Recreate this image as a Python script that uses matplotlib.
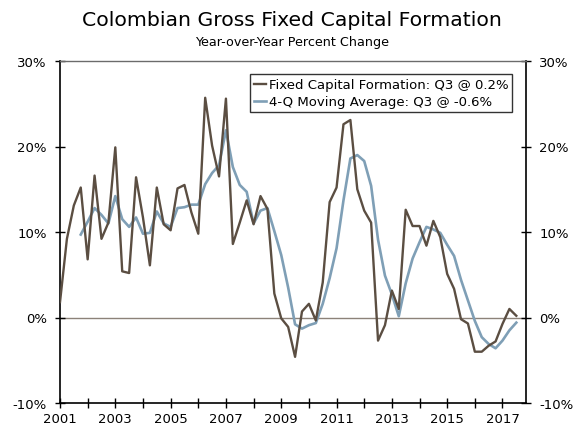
import matplotlib
matplotlib.use("Agg")
import matplotlib.pyplot as plt
from matplotlib.ticker import FixedLocator, MultipleLocator, FuncFormatter

# quarterly data, 2001 Q1 .. 2017 Q3
start_year = 2001
fixed_capital = [
    1.8, 9.2, 13.1, 15.2, 6.8, 16.6, 9.2, 11.1, 19.9, 5.4, 5.2, 16.4,
    11.7, 6.1, 15.2, 10.9, 10.2, 15.1, 15.5, 12.3, 9.8, 25.7, 20.1, 16.5,
    25.6, 8.6, 11.1, 13.7, 10.9, 14.2, 12.7, 2.8, -0.1, -1.1, -4.6, 0.7,
    1.6, -0.35, 4.1, 13.5, 15.2, 22.6, 23.1, 15.0, 12.5, 11.1, -2.7, -0.9,
    3.15, 1.0, 12.6, 10.7, 10.7, 8.4, 11.3, 9.4, 5.1, 3.35, -0.2, -0.7,
    -4.0, -4.0, -3.3, -2.8, -0.75, 1.0, 0.2,
]
moving_avg = [
    None, None, None, 9.7, 11.2, 12.8, 12.0, 11.0, 14.2, 11.5, 10.6, 11.7,
    9.8, 9.9, 12.4, 11.0, 10.6, 12.8, 12.9, 13.2, 13.2, 15.6, 16.9, 17.8,
    21.9, 17.6, 15.5, 14.7, 11.0, 12.5, 12.8, 10.1, 7.3, 3.5, -0.8, -1.3,
    -0.9, -0.65, 1.6, 4.6, 8.1, 13.7, 18.6, 19.0, 18.3, 15.4, 9.1, 4.9,
    2.7, 0.15, 4.0, 6.9, 8.8, 10.6, 10.3, 9.9, 8.5, 7.2, 4.4, 2.0,
    -0.4, -2.3, -3.1, -3.6, -2.7, -1.5, -0.6,
]
label_years = [2001, 2003, 2005, 2007, 2009, 2011, 2013, 2015, 2017]
minor_years = [2002, 2004, 2006, 2008, 2010, 2012, 2014, 2016]

fc_label = "Fixed Capital Formation: Q3 @ 0.2%"
ma_label = "4-Q Moving Average: Q3 @ -0.6%"

brown = "#5b4e42"
blue = "#7f9fb6"

x = [start_year + i / 4 for i in range(len(fixed_capital))]
ma_x = [xi for xi, v in zip(x, moving_avg) if v is not None]
ma_y = [v for v in moving_avg if v is not None]

fig = plt.figure(figsize=(5.84, 4.27), dpi=100)
ax = fig.add_axes([60 / 584, 23 / 427, 466 / 584, 342 / 427])

ax.axhline(0, color="#8c8279", lw=1.0, zorder=1)
ax.plot(x, fixed_capital, color=brown, lw=1.7, label=fc_label, zorder=3)
ax.plot(ma_x, ma_y, color=blue, lw=1.9, label=ma_label, zorder=2)

ax.set_xlim(2001, 2017.85)
ax.set_ylim(-10, 30)
ax.xaxis.set_major_locator(FixedLocator(label_years))
ax.xaxis.set_minor_locator(FixedLocator(minor_years))
ax.xaxis.set_major_formatter(FuncFormatter(lambda v, p: f"{int(v)}"))
ax.yaxis.set_major_locator(MultipleLocator(10))
ax.yaxis.set_major_formatter(FuncFormatter(lambda v, p: f"{int(v)}%"))

ax.tick_params(axis="both", which="both", direction="inout", length=7,
               width=1, labelsize=9.5, colors="black")
ax.tick_params(axis="y", right=True, labelright=True, pad=6)
ax.tick_params(axis="x", pad=3)

for side in ["left", "right", "bottom"]:
    ax.spines[side].set_color("black")
    ax.spines[side].set_linewidth(1.2)
ax.spines["top"].set_color("#6b6b6b")
ax.spines["top"].set_linewidth(1.0)

leg = ax.legend(loc="upper right", bbox_to_anchor=(0.985, 0.98), fontsize=9.5,
                handlelength=0.9, handletextpad=0.2, borderpad=0.3,
                labelspacing=0.3, fancybox=False, framealpha=1)
leg.get_frame().set_edgecolor("#333333")
leg.get_frame().set_linewidth(1.0)

fig.text(0.5, 0.953, "Colombian Gross Fixed Capital Formation",
         ha="center", va="center", fontsize=14.7)
fig.text(0.5, 0.901, "Year-over-Year Percent Change",
         ha="center", va="center", fontsize=9.2)

fig.savefig("out.png", dpi=100)
